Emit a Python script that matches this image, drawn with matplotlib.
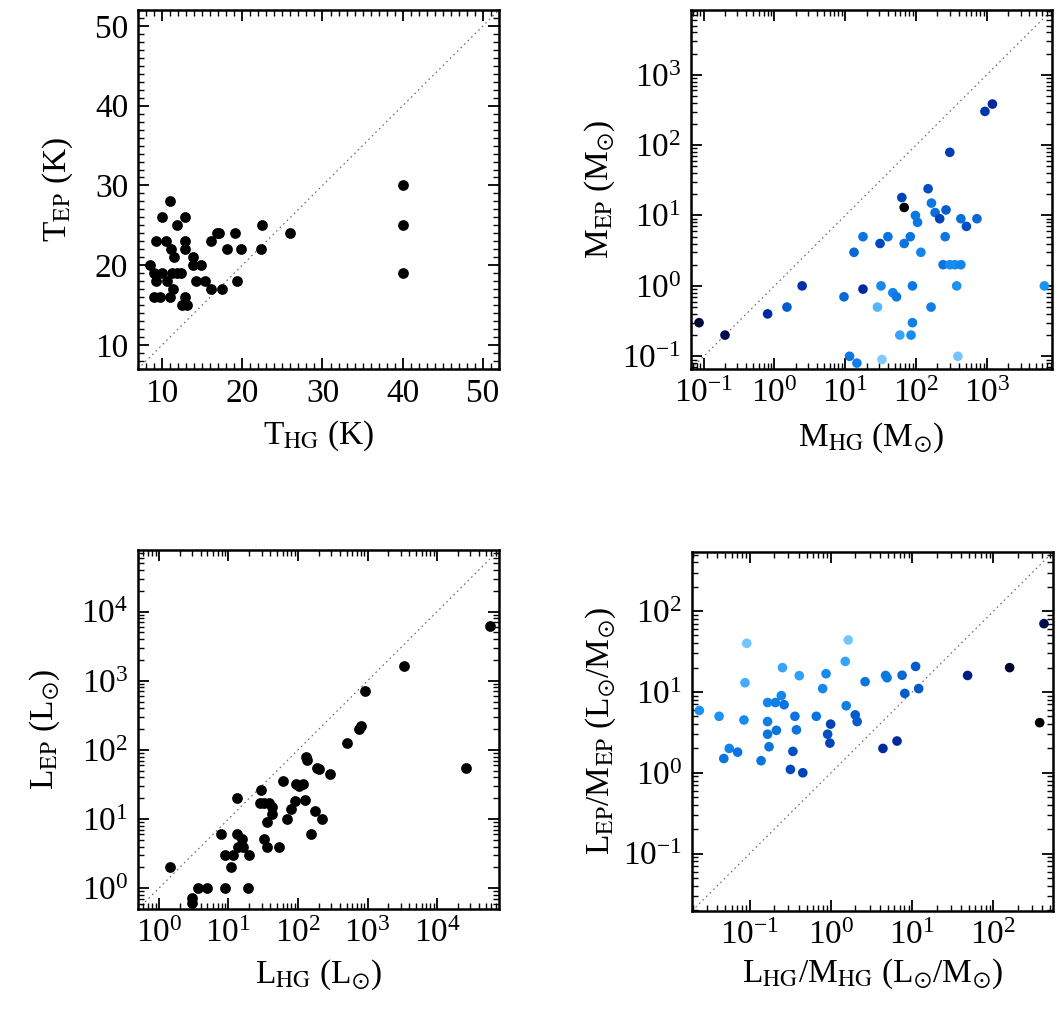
import numpy as np
import matplotlib
matplotlib.use('Agg')
import matplotlib.pyplot as plt
from matplotlib.colors import LinearSegmentedColormap
from matplotlib.ticker import MultipleLocator, LogLocator, NullFormatter

plt.rcParams['font.family'] = ['Liberation Serif', 'DejaVu Serif']
plt.rcParams['mathtext.fontset'] = 'stix'
plt.rcParams['axes.unicode_minus'] = False

# --- temperature: HG vs EP (K) ---
t_hg = [8.5, 9, 9.3, 9, 9.7, 9.25, 10, 11, 10.5, 10, 10.6, 11, 11.1, 11.5,
        11.25, 11.9, 12.4, 11.4, 11.9, 12.8, 12.8, 12.9, 12.9, 12.5, 13.1,
        13.9, 13.8, 14.8, 14.25, 15.3, 16.1, 17.5, 16.1, 16.8, 17.1, 18.1,
        19.1, 19.9, 19.3, 22.3, 22.5, 26, 40, 40, 40]
t_ep = [20, 19, 18, 16, 16, 23, 26, 28, 23, 19, 18, 16, 22, 21,
        19, 19, 19, 17, 25, 26, 23, 22, 16, 15, 15,
        21, 20, 20, 18, 18, 17, 17, 23, 24, 24, 22,
        24, 22, 18, 22, 25, 24, 30, 25, 19]

# --- mass: HG vs EP (Msun), with colour level (0 = black, 1 = light blue) ---
m_hg = [0.086, 0.2, 0.8, 1.5, 2.46, 9.6, 17.8, 13.3, 17.8, 31, 40, 63, 68, 68,
        83, 98, 105, 117, 148, 165, 186, 216, 265, 300, 258, 430, 515, 725,
        940, 1200, 241, 300, 355, 430, 375, 6500, 32, 28.5, 47, 53, 89, 163,
        89, 59, 85, 11.5, 14.6, 33, 390]
m_ep = [0.3, 0.2, 0.4, 0.5, 1.0, 0.7, 0.9, 3, 5, 4, 5, 18, 13, 4,
        5, 10, 8, 3, 24, 15, 11, 9, 12, 79, 5, 9, 7, 9,
        301, 383, 2, 2, 2, 2, 1, 1, 1, 0.5, 0.8, 0.7, 1, 0.5,
        0.3, 0.2, 0.2, 0.1, 0.08, 0.09, 0.1]
m_col = [0.1, 0.15, 0.3, 0.5, 0.33, 0.55, 0.3, 0.55, 0.6, 0.42, 0.6, 0.4, 0.0, 0.6,
         0.6, 0.62, 0.62, 0.68, 0.45, 0.62, 0.58, 0.4, 0.5, 0.38, 0.62, 0.58, 0.45, 0.55,
         0.35, 0.3, 0.6, 0.72, 0.72, 0.68, 0.75, 0.75, 0.7, 0.88, 0.68, 0.62, 0.62, 0.65,
         0.65, 0.82, 0.72, 0.62, 0.65, 0.97, 0.95]

# --- luminosity: HG vs EP (Lsun) ---
l_hg = [1.44, 2.96, 2.96, 3.6, 5.0, 8.9, 19.4, 7.9, 8.9, 11.5, 10.8, 13.2, 13.2,
        15.9, 13.9, 16, 20, 29, 28.6, 32.5, 38, 43, 43, 36, 32, 36, 54, 61,
        69, 80, 91, 93, 105, 117, 125, 132, 135, 155, 178, 188, 204, 222,
        286, 500, 750, 810, 935, 3340, 25900, 58000]
l_ep = [2.0, 0.73, 0.62, 1.0, 1.0, 1.0, 1.0, 6.0, 3.0, 3.0, 2.0, 20, 6.0,
        5.1, 4.0, 4.0, 3.0, 26, 17, 17, 17, 15, 12, 9, 5.1, 4.0, 4.0, 35,
        10, 14, 18, 32, 30, 32, 19, 80, 72, 6.0, 13, 55, 53, 10,
        45, 127, 203, 221, 714, 1650, 55, 6150]

# --- L/M: HG vs EP (Lsun/Msun) ---
lm_hg = [0.024, 0.042, 0.048, 0.056, 0.071, 0.092, 0.0875, 0.085, 0.138, 0.166,
         0.207, 0.166, 0.166, 0.173, 0.213, 0.245, 0.253, 0.265, 0.36, 0.376,
         0.34, 0.317, 0.45, 0.407, 0.66, 0.79, 0.87, 0.99, 0.91, 0.97,
         1.5, 1.63, 1.54, 1.99, 2.1, 2.63, 4.7, 4.9, 4.36, 6.5,
         7.5, 8.1, 11, 12, 48, 158, 418, 370]
lm_ep = [5.9, 5.0, 1.5, 2.0, 1.8, 40, 13, 4.5, 1.41, 7.4,
         7.4, 4.3, 3.0, 2.1, 3.35, 9.0, 20, 6.95, 5.0, 3.4,
         1.84, 1.1, 1.0, 15.9, 5.0, 11, 16.8, 4.0, 3.0, 2.33,
         23.9, 44, 6.76, 5.2, 4.3, 13.4, 16, 15, 2.0, 2.47,
         16.1, 9.6, 20.7, 11, 16, 20, 70, 4.17]
lm_col = [0.75, 0.75, 0.6, 0.68, 0.6, 0.95, 0.85, 0.72, 0.6, 0.68,
          0.65, 0.65, 0.6, 0.6, 0.6, 0.7, 0.82, 0.6, 0.6, 0.6,
          0.45, 0.42, 0.4, 0.8, 0.6, 0.7, 0.72, 0.4, 0.45, 0.4,
          0.82, 0.95, 0.65, 0.5, 0.5, 0.6, 0.62, 0.62, 0.3, 0.3,
          0.55, 0.5, 0.5, 0.48, 0.25, 0.08, 0.15, 0.0]

cmap = LinearSegmentedColormap.from_list(
    'blues', [(0.0, '#000000'), (0.15, '#000a50'), (0.3, '#0028a0'),
              (0.45, '#0050c4'), (0.6, '#0a74e0'), (0.75, '#1a92f2'),
              (0.88, '#50b4ff'), (1.0, '#8ccfff')])

FS = 24


def style_axes(ax, log=False):
    ax.tick_params(which='both', direction='in', top=True, right=True,
                   labelsize=FS, pad=7)
    ax.tick_params(which='major', length=8, width=1.3)
    ax.tick_params(which='minor', length=4, width=1.0)
    for sp in ax.spines.values():
        sp.set_linewidth(1.8)
    if log:
        for axis in (ax.xaxis, ax.yaxis):
            axis.set_major_locator(LogLocator(base=10, numticks=20))
            axis.set_minor_locator(LogLocator(base=10, subs=np.arange(2, 10), numticks=20))
            axis.set_minor_formatter(NullFormatter())


def one_to_one(ax, lo, hi):
    ax.plot([lo, hi], [lo, hi], ls=(0, (1.5, 3)), color='0.4', lw=0.8, zorder=1)


fig = plt.figure(figsize=(10.63, 10.15), dpi=100)
ax1 = fig.add_axes([0.1298, 0.6365, 0.3396, 0.3537])
ax2 = fig.add_axes([0.6500, 0.6365, 0.3396, 0.3537])
ax3 = fig.add_axes([0.1298, 0.1044, 0.3396, 0.3537])
ax4 = fig.add_axes([0.6510, 0.1025, 0.3396, 0.3537])

# temperature
one_to_one(ax1, 7, 52)
ax1.scatter(t_hg, t_ep, s=60, c='k', zorder=3, linewidths=0)
ax1.set_xlim(7, 52)
ax1.set_ylim(7, 52)
style_axes(ax1)
ax1.xaxis.set_major_locator(MultipleLocator(10))
ax1.yaxis.set_major_locator(MultipleLocator(10))
ax1.xaxis.set_minor_locator(MultipleLocator(1))
ax1.yaxis.set_minor_locator(MultipleLocator(1))
ax1.set_xlabel(r'T$_{\rm HG}$ (K)', fontsize=FS, labelpad=7)
ax1.set_ylabel(r'T$_{\rm EP}$ (K)', fontsize=FS, labelpad=14)

# mass
lo, hi = 10 ** -1.18, 10 ** 3.92
one_to_one(ax2, lo, hi)
ax2.scatter(m_hg, m_ep, s=48, c=m_col, cmap=cmap, vmin=0, vmax=1,
            zorder=3, linewidths=0)
ax2.set_xscale('log')
ax2.set_yscale('log')
ax2.set_xlim(lo, hi)
ax2.set_ylim(lo, hi)
style_axes(ax2, log=True)
ax2.set_xlabel(r'M$_{\rm HG}$ (M$_{\odot}$)', fontsize=FS, labelpad=8)
ax2.set_ylabel(r'M$_{\rm EP}$ (M$_{\odot}$)', fontsize=FS)

# luminosity
lo, hi = 10 ** -0.3, 10 ** 4.89
one_to_one(ax3, lo, hi)
ax3.scatter(l_hg, l_ep, s=60, c='k', zorder=3, linewidths=0)
ax3.set_xscale('log')
ax3.set_yscale('log')
ax3.set_xlim(lo, hi)
ax3.set_ylim(lo, hi)
style_axes(ax3, log=True)
ax3.set_xlabel(r'L$_{\rm HG}$ (L$_{\odot}$)', fontsize=FS, labelpad=6)
ax3.set_ylabel(r'L$_{\rm EP}$ (L$_{\odot}$)', fontsize=FS, labelpad=14)

# L/M
lo, hi = 0.0195, 540
one_to_one(ax4, lo, hi)
ax4.scatter(lm_hg, lm_ep, s=48, c=lm_col, cmap=cmap, vmin=0, vmax=1,
            zorder=3, linewidths=0)
ax4.set_xscale('log')
ax4.set_yscale('log')
ax4.set_xlim(lo, hi)
ax4.set_ylim(lo, hi)
style_axes(ax4, log=True)
ax4.set_xlabel(r'L$_{\rm HG}$/M$_{\rm HG}$ (L$_{\odot}$/M$_{\odot}$)', fontsize=FS)
ax4.set_ylabel(r'L$_{\rm EP}$/M$_{\rm EP}$ (L$_{\odot}$/M$_{\odot}$)', fontsize=FS)

fig.savefig('out.png', dpi=100)
